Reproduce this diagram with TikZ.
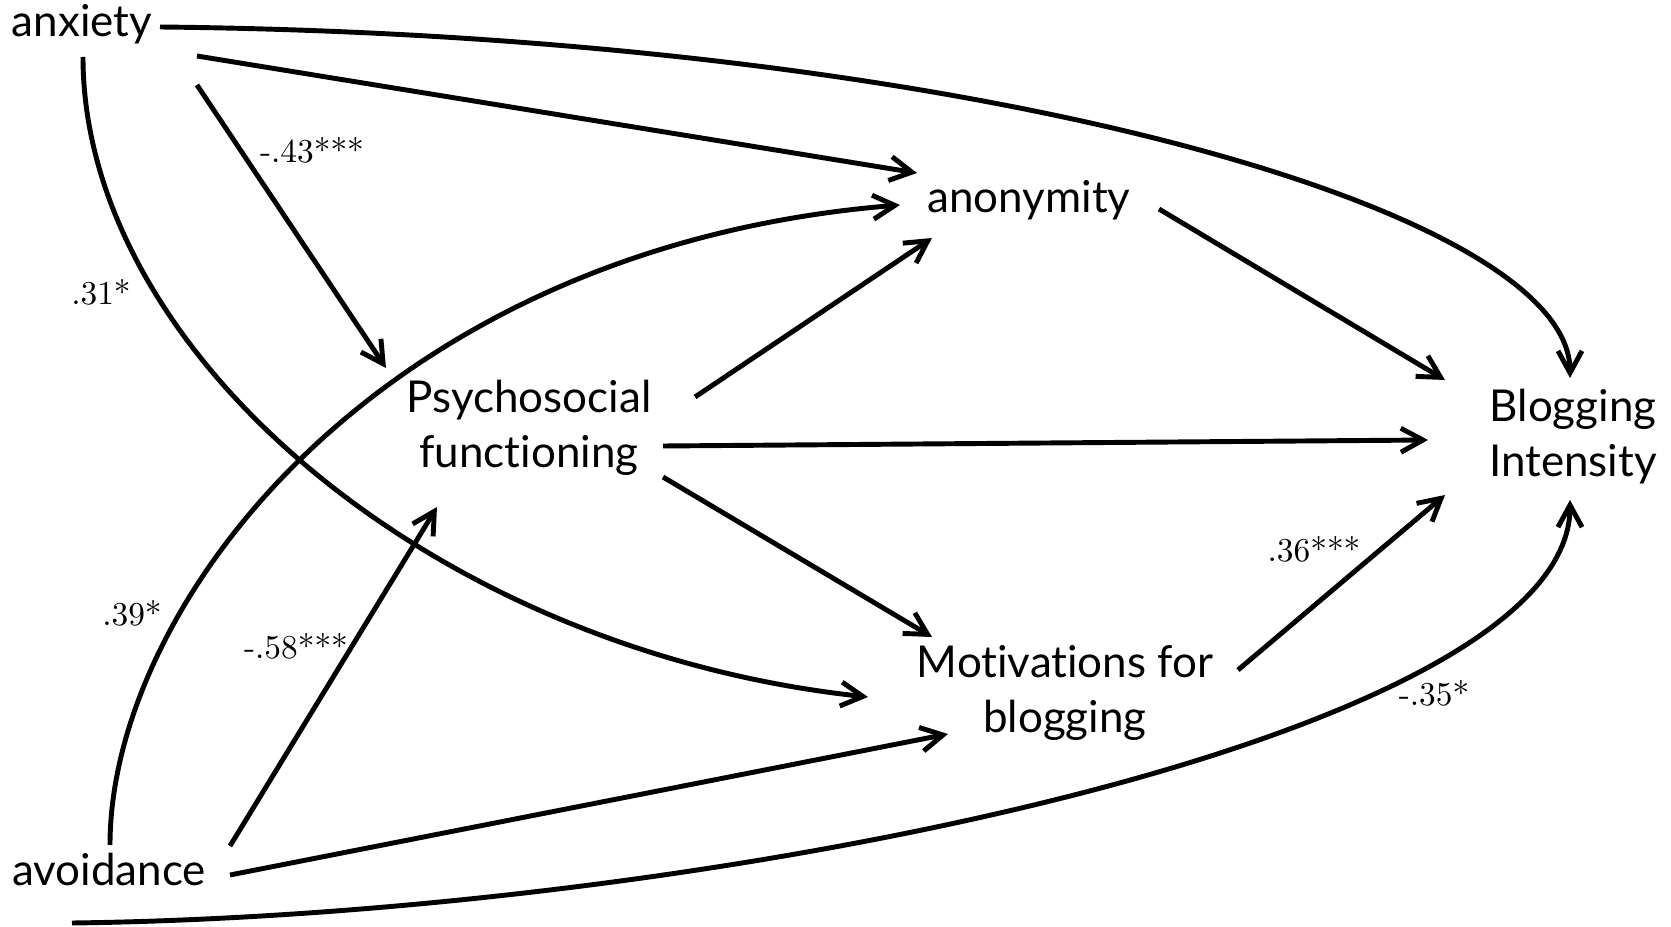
\documentclass[tikz,border=0pt]{standalone}
\usepackage{fontspec}
\usetikzlibrary{arrows.meta}
\newfontfamily\varfont[Ligatures={NoCommon,NoRare}]{Lato}

\begin{document}
\begin{tikzpicture}[
	var/.style={font=\varfont\fontsize{12.5}{15.6}\selectfont, align=center, inner sep=0pt},
	coef/.style={font=\fontsize{9.5}{11}\selectfont, inner sep=0pt},
	link/.style={line width=1.4pt, -{Straight Barb[length=2.2mm,width=2.4mm]}}
]
\useasboundingbox (0,0) rectangle (16.71,9.26);

% variables
\node[var,anchor=base] (anx) at (0.82,8.89) {anxiety};
\node[var,anchor=base] (avo) at (1.09,0.41) {avoidance};
\node[var] (psy) at (5.29,4.98) {Psychosocial\\functioning};
\node[var,anchor=base] (ano) at (10.29,7.13) {anonymity};
\node[var] (mot) at (10.65,2.33) {Motivations for\\blogging};
\node[var] (blg) at (15.73,4.89) {Blogging\\Intensity};

% paths from anxiety
\draw[link] ([shift={(0.78,0.10)}]anx.base) .. controls +(8.00,-0.08) and +(0,1.70) .. ([shift={(-0.03,0.59)}]blg.center);
\draw[link] ([shift={(1.15,-0.19)}]anx.base) -- ([shift={(-1.12,0.40)}]ano.base);
\draw[link] ([shift={(1.15,-0.48)}]anx.base) -- ([shift={(-1.43,0.60)}]psy.center);
\draw[link] ([shift={(0.01,-0.20)}]anx.base) .. controls +(0,-2.93) and +(-4.38,0.47) .. ([shift={(-1.97,-0.04)}]mot.center);

% paths from avoidance
\draw[link] ([shift={(0.01,0.40)}]avo.base) .. controls +(0,2.40) and +(-5.20,-0.42) .. ([shift={(-1.29,0.08)}]ano.base);
\draw[link] ([shift={(1.21,0.39)}]avo.base) -- ([shift={(-0.92,-0.79)}]psy.center);
\draw[link] ([shift={(1.21,0.10)}]avo.base) -- ([shift={(-1.17,-0.41)}]mot.center);
\draw[link] ([shift={(-0.37,-0.38)}]avo.base) .. controls +(6.28,0.08) and +(0,-2.40) .. ([shift={(-0.03,-0.63)}]blg.center);

% mediators
\draw[link] ([shift={(1.66,0.31)}]psy.center) -- ([shift={(-0.97,-0.25)}]ano.base);
\draw[link] ([shift={(1.34,-0.18)}]psy.center) -- ([shift={(-1.45,-0.03)}]blg.center);
\draw[link] ([shift={(1.34,-0.49)}]psy.center) -- ([shift={(-1.33,0.56)}]mot.center);
\draw[link] ([shift={(1.30,0.04)}]ano.base) -- ([shift={(-1.28,0.57)}]blg.center);
\draw[link] ([shift={(1.73,0.23)}]mot.center) -- ([shift={(-1.28,-0.58)}]blg.center);

% coefficients
\node[coef] (c1) at (3.12,7.76) {-.43***};
\node[coef] (c2) at (1.01,6.34) {.31*};
\node[coef] (c3) at (1.32,3.13) {.39*};
\node[coef] (c4) at (2.96,2.80) {-.58***};
\node[coef] (c5) at (13.14,3.77) {.36***};
\node[coef] (c6) at (14.34,2.33) {-.35*};
\end{tikzpicture}
\end{document}
